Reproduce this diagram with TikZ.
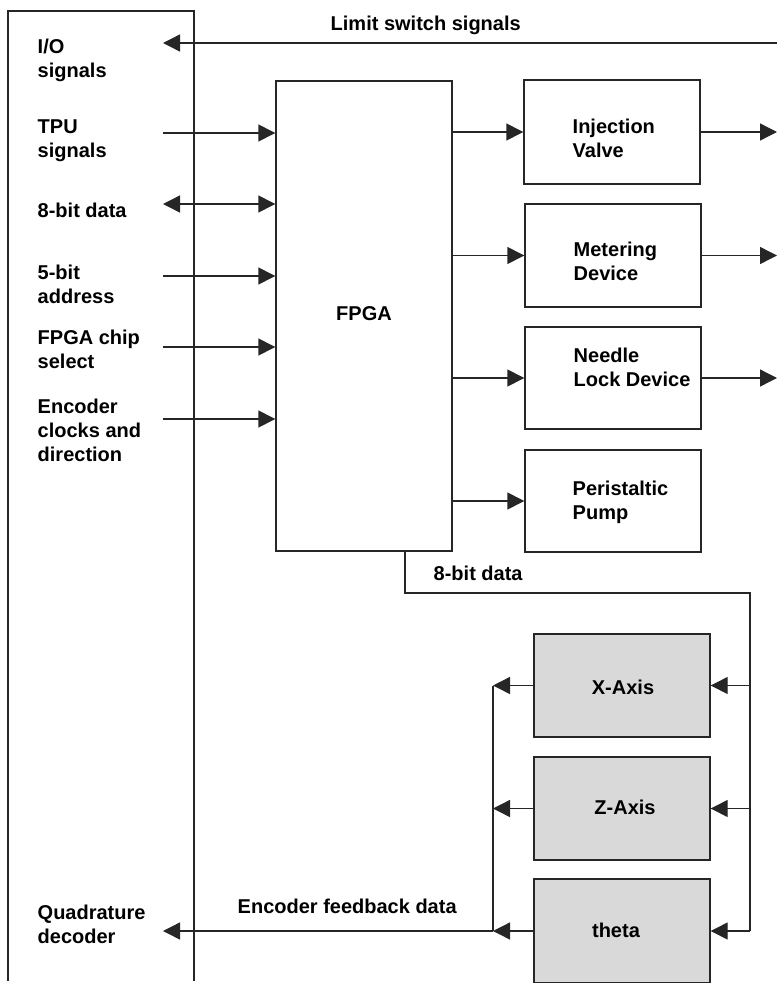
\documentclass[tikz,border=0pt]{standalone}
\usepackage{fontspec}
\setmainfont{Liberation Sans}
\usetikzlibrary{arrows.meta}
\begin{document}
\begin{tikzpicture}[x=1pt,y=-1pt,
  line width=1.4pt,
  lc/.style={draw=black!85},
  arr/.style={lc,-{Triangle[length=17pt,width=17pt]}},
  darr/.style={lc,{Triangle[length=17pt,width=17pt]}-{Triangle[length=17pt,width=17pt]}},
  box/.style={lc,rectangle,inner sep=0pt,minimum width=176pt},
  gbox/.style={box,fill=black!15},
  lbl/.style={font=\bfseries\fontsize{20}{24}\selectfont,inner sep=0pt,anchor=base west,align=left},
  clbl/.style={lbl,anchor=base,align=center}]
\useasboundingbox (0,0) rectangle (777,983);
% outer left frame
\draw[lc] (8,981) -- (8,11) -- (194,11) -- (194,981);
% boxes
\node[box,minimum height=470pt] (fpga) at (364,316) {};
\node[box,minimum height=104pt] (inj) at (612,132) {};
\node[box,minimum height=103pt] (met) at (613,255.5) {};
\node[box,minimum height=102pt] (ndl) at (613,378) {};
\node[box,minimum height=102pt] (pst) at (613,501) {};
\node[gbox,minimum height=103pt] (xax) at (622,685.5) {};
\node[gbox,minimum height=103pt] (zax) at (622,808.5) {};
\node[gbox,minimum height=104pt] (tht) at (622,931) {};
% labels (base = baseline of last line)
\node[lbl] (tio) at (37,77) {I/O\\signals};
\node[lbl] (ttpu) at (37,157) {TPU\\signals};
\node[lbl] (tdat) at (37,217) {8-bit data};
\node[lbl] (tadr) at (37,303) {5-bit\\address};
\node[lbl] (tcs) at (37,368) {FPGA chip\\select};
\node[lbl] (tenc) at (37,461) {Encoder\\clocks and\\direction};
\node[lbl] (tqd) at (37,943) {Quadrature\\decoder};
\node[lbl] (tlim) at (330,30) {Limit switch signals};
\node[lbl] (tinj) at (572,157) {Injection\\Valve};
\node[lbl] (tmet) at (573,280) {Metering\\Device};
\node[lbl] (tndl) at (573,386) {Needle\\Lock Device};
\node[lbl] (tpst) at (572,519) {Peristaltic\\Pump};
\node[clbl] (tfpga) at (364,320) {FPGA};
\node[lbl] (tbus) at (433,580) {8-bit data};
\node[clbl] (txax) at (623,694) {X-Axis};
\node[clbl] (tzax) at (625,814) {Z-Axis};
\node[clbl] (ttht) at (616,937) {theta};
\node[lbl] (tfb) at (237,913) {Encoder feedback data};
% coordinates
\coordinate (limR) at (777,43);
\coordinate (limL) at (163,43);
\coordinate (tpuL) at (163,133);
\coordinate (datL) at (163,204);
\coordinate (adrL) at (163,276);
\coordinate (csL) at (163,347);
\coordinate (encL) at (163,419);
\coordinate (qdL) at (163,931);
\coordinate (edge) at (777,0);
\coordinate (busA) at (405,593);
\coordinate (busB) at (750,593);
\coordinate (fbx) at (493,0);
% input side
\draw[arr] (limR) -- (limL);
\draw[arr] (tpuL) -- (tpuL -| fpga.west);
\draw[darr] (datL) -- (datL -| fpga.west);
\draw[arr] (adrL) -- (adrL -| fpga.west);
\draw[arr] (csL) -- (csL -| fpga.west);
\draw[arr] (encL) -- (encL -| fpga.west);
% fpga outputs
\draw[arr] (fpga.east |- inj.west) -- (inj.west);
\draw[arr] (fpga.east |- met.west) -- (met.west);
\draw[arr] (fpga.east |- ndl.west) -- (ndl.west);
\draw[arr] (fpga.east |- pst.west) -- (pst.west);
\draw[arr] (inj.east) -- (inj.east -| edge);
\draw[arr] (met.east) -- (met.east -| edge);
\draw[arr] (ndl.east) -- (ndl.east -| edge);
% bus to axes
\draw[lc] (fpga.south -| busA) -- (busA) -- (busB) -- (busB |- tht.east);
\draw[arr] (busB |- tht.east) -- (tht.east);
\draw[arr] (busB |- xax.east) -- (xax.east);
\draw[arr] (busB |- zax.east) -- (zax.east);
% feedback
\draw[arr] (xax.west) -- (xax.west -| fbx);
\draw[arr] (zax.west) -- (zax.west -| fbx);
\draw[arr] (tht.west) -- (tht.west -| fbx);
\draw[lc] (xax.west -| fbx) -- (tht.west -| fbx);
\draw[arr] (tht.west -| fbx) -- (qdL);
\end{tikzpicture}
\end{document}
